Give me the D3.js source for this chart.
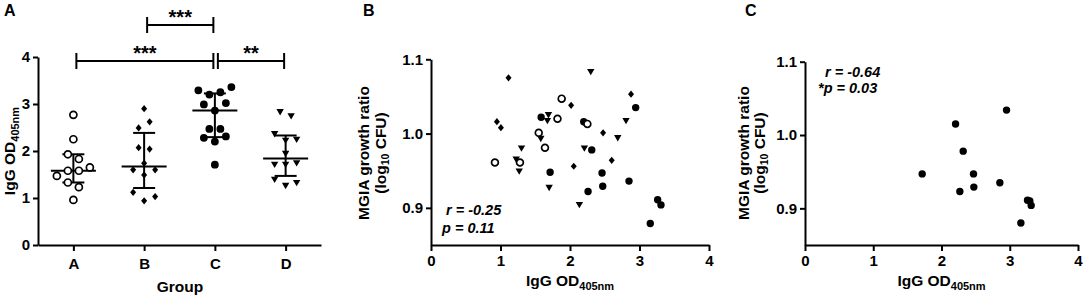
<!DOCTYPE html>
<html><head><meta charset="utf-8">
<script src="https://cdn.jsdelivr.net/npm/d3@7"></script>
<style>
body{margin:0;background:#fff}
svg{display:block}
text{font-family:"Liberation Sans",Arial,sans-serif;font-weight:bold;fill:#000}
</style>
</head><body>
<svg id="chart" width="1084" height="297"></svg>
<script>
// ---------- DATA ----------
const groups = ["A", "B", "C", "D"];
const igA = [2.77, 2.25, 1.93, 1.83, 1.47, 1.58, 1.58, 1.65, 1.33, 1.23, 0.96];
const igB = [2.90, 2.49, 2.62, 2.07, 2.04, 1.74, 1.60, 1.49, 1.60, 1.12, 0.94, 1.03];
const igC = [3.29, 3.20, 3.25, 3.36, 2.99, 2.86, 3.02, 2.47, 2.47, 2.28, 2.20, 2.31, 1.71];
const igD = [2.83, 2.74, 2.36, 2.22, 2.24, 1.94, 1.71, 1.71, 1.74, 1.39, 1.26, 1.32];
const yTicksA = [0, 1, 2, 3, 4];
const sigPairs = [["B", "C"], ["A", "C"], ["C", "D"]];
const sigLabels = ["***", "***", "**"];
const sigLevel = [0, 1, 1];

// Panel B scatter (IgG OD vs MGIA ratio)
const bOpenX = [0.92, 1.28, 1.64, 1.82, 1.55, 2.25, 1.88];
const bOpenY = [0.961, 0.961, 0.981, 1.020, 1.001, 1.013, 1.047];
const bDiamX = [1.115, 0.948, 1.006, 2.016, 2.878, 2.476, 2.600, 2.054];
const bDiamY = [1.075, 1.016, 1.008, 1.038, 1.053, 1.001, 0.964, 0.956];
const bFillX = [1.88, 1.585, 2.198, 2.945, 2.313, 1.714, 2.461, 2.471, 2.849, 2.260, 3.261, 3.309, 3.155];
const bFillY = [1.047, 1.022, 1.016, 1.035, 0.978, 0.948, 0.947, 0.929, 0.936, 0.922, 0.911, 0.904, 0.879];
const bTriX = [2.299, 1.690, 1.675, 2.806, 2.687, 1.580, 1.302, 2.207, 1.226, 1.269, 1.700, 2.135];
const bTriY = [1.083, 1.025, 1.017, 1.017, 0.994, 0.993, 0.980, 0.980, 0.965, 0.949, 0.927, 0.904];

// Panel C scatter
const cX = [1.717, 2.206, 2.318, 2.269, 2.469, 2.474, 2.953, 2.855, 3.260, 3.294, 3.314, 3.163];
const cY = [0.947, 1.015, 0.978, 0.923, 0.947, 0.929, 1.034, 0.935, 0.911, 0.910, 0.904, 0.880];

const xTicksOD = [0, 1, 2, 3, 4];
const yTicksMGIA = [0.9, 1.0, 1.1];
const statB = ["r = -0.25", "p = 0.11"];
const statC = ["r = -0.64", "*p = 0.03"];

// ---------- HELPERS ----------
const svg = d3.select("#chart");
const FONT = 15;

function styleAxis(g) {
  g.select(".domain").attr("stroke", "#000").attr("stroke-width", 2);
  g.selectAll(".tick line").attr("stroke", "#000").attr("stroke-width", 2);
  g.selectAll(".tick text").attr("font-size", FONT).attr("font-weight", "bold")
    .attr("font-family", '"Liberation Sans",Arial,sans-serif').attr("fill", "#000");
}

const circlePath = r => d3.symbol(d3.symbolCircle, Math.PI * r * r)();
const diamondPath = "M0,-3.6L3.0,0L0,3.6L-3.0,0Z";
const triPath = "M-3.7,-3.0L3.7,-3.0L0,3.4Z";

function quart(sorted, p) {
  const n = sorted.length, pos = p * (n + 1), lo = Math.floor(pos), f = pos - lo;
  if (lo < 1) return sorted[0];
  if (lo >= n) return sorted[n - 1];
  return sorted[lo - 1] + f * (sorted[lo] - sorted[lo - 1]);
}

function rowOffsets(vals, gap, step) {
  const idx = vals.map((v, i) => i).sort((a, b) => vals[b] - vals[a]);
  const rows = []; let cur = [idx[0]];
  for (let k = 1; k < idx.length; k++) {
    if (vals[idx[k - 1]] - vals[idx[k]] > gap + 1e-9) { rows.push(cur); cur = []; }
    cur.push(idx[k]);
  }
  rows.push(cur);
  const off = new Array(vals.length);
  rows.forEach(r => { r.sort((a, b) => a - b); r.forEach((i, j) => off[i] = (j - (r.length - 1) / 2) * step); });
  return off;
}

function titleOD(sel) {
  sel.append("tspan").text("IgG OD");
  sel.append("tspan").attr("font-size", 11).attr("dy", 4).text("405nm");
}

// ---------- PANEL A ----------
{
  const x = d3.scalePoint(groups, [38, 321]).padding(0.5);
  const y = d3.scaleLinear([0, 4], [245, 57]);
  const g = svg.append("g");

  g.append("g").attr("transform", "translate(38,0)")
    .call(d3.axisLeft(y).tickValues(yTicksA).tickSize(5).tickSizeOuter(0).tickPadding(3).tickFormat(d3.format("d")))
    .call(styleAxis);
  g.append("g").attr("transform", "translate(0,245)")
    .call(d3.axisBottom(x).tickSize(6).tickSizeOuter(0).tickPadding(7))
    .call(styleAxis);

  g.append("text").attr("transform", "translate(15,151) rotate(-90)").attr("text-anchor", "middle")
    .attr("font-size", 15.5).call(titleOD);
  g.append("text").attr("x", 180).attr("y", 292).attr("text-anchor", "middle").attr("font-size", 15.5).text("Group");
  g.append("text").attr("x", 4).attr("y", 16).attr("font-size", 16).text("A");

  const sets = [igA, igB, igC, igD];
  sets.forEach((vals, gi) => {
    const cx = x(groups[gi]);
    const sorted = vals.slice().sort(d3.ascending);
    const med = quart(sorted, 0.5), q1 = quart(sorted, 0.25), q3 = quart(sorted, 0.75);
    const off = rowOffsets(vals, 0.135, 11);
    const gg = g.append("g");
    gg.append("line").attr("x1", cx).attr("x2", cx).attr("y1", y(q3)).attr("y2", y(q1)).attr("stroke", "#000").attr("stroke-width", 2);
    gg.append("line").attr("x1", cx - 22.5).attr("x2", cx + 22.5).attr("y1", y(med)).attr("y2", y(med)).attr("stroke", "#000").attr("stroke-width", 2);
    [q1, q3].forEach(q => gg.append("line").attr("x1", cx - 11).attr("x2", cx + 11).attr("y1", y(q)).attr("y2", y(q)).attr("stroke", "#000").attr("stroke-width", 2));
    gg.selectAll("path.pt").data(vals).join("path").attr("class", "pt")
      .attr("transform", (d, i) => `translate(${cx + off[i]},${y(d)})`)
      .attr("d", gi === 0 ? circlePath(3.5) : gi === 1 ? diamondPath : gi === 2 ? circlePath(3.9) : triPath)
      .attr("fill", gi === 0 ? "#fff" : "#000")
      .attr("stroke", gi === 0 ? "#000" : "none")
      .attr("stroke-width", gi === 0 ? 1.7 : 0);
  });

  const levelY = [25, 61];
  sigPairs.forEach((p, i) => {
    const x1 = x(p[0]) + 3, x2 = x(p[1]) - 1.5, yy = levelY[sigLevel[i]];
    const b = g.append("g").attr("stroke", "#000").attr("stroke-width", 2);
    b.append("line").attr("x1", x1).attr("x2", x2).attr("y1", yy).attr("y2", yy);
    b.append("line").attr("x1", x1).attr("x2", x1).attr("y1", yy - 8).attr("y2", yy + 8);
    b.append("line").attr("x1", x2).attr("x2", x2).attr("y1", yy - 8).attr("y2", yy + 8);
    g.append("text").attr("x", (x1 + x2) / 2).attr("y", yy - 1).attr("text-anchor", "middle")
      .attr("font-size", 20).text(sigLabels[i]);
  });
}

// ---------- SCATTER PANELS ----------
function scatterPanel(opts) {
  const x = d3.scaleLinear([0, 4], [opts.x0, opts.x1]);
  const y = d3.scaleLinear([0.85, 1.1], [245, opts.yTop]);
  const g = svg.append("g");
  g.append("g").attr("transform", `translate(${opts.x0},0)`)
    .call(d3.axisLeft(y).tickValues(yTicksMGIA).tickSize(5).tickSizeOuter(0).tickPadding(3).tickFormat(d3.format(".1f")))
    .call(styleAxis);
  g.append("g").attr("transform", "translate(0,245)")
    .call(d3.axisBottom(x).tickValues(xTicksOD).tickSize(6).tickSizeOuter(0).tickPadding(4).tickFormat(d3.format("d")))
    .call(styleAxis);
  g.append("text").attr("x", (opts.x0 + opts.x1) / 2).attr("y", 286).attr("text-anchor", "middle")
    .attr("font-size", 15.5).call(titleOD);
  g.append("text").attr("transform", `translate(${opts.t1},153) rotate(-90)`).attr("text-anchor", "middle")
    .attr("font-size", 15.5).text("MGIA growth ratio");
  const t2 = g.append("text").attr("transform", `translate(${opts.t2},153) rotate(-90)`).attr("text-anchor", "middle")
    .attr("font-size", 15.5);
  t2.append("tspan").text("(log");
  t2.append("tspan").attr("font-size", 10.5).attr("dy", 3).text("10");
  t2.append("tspan").attr("dy", -3).text(" CFU)");
  g.append("text").attr("x", opts.lx).attr("y", 16).attr("font-size", 16).text(opts.letter);
  opts.stats.forEach((s, i) => g.append("text").attr("x", opts.sx[i]).attr("y", opts.sy[i])
    .attr("font-size", 14.5).attr("font-style", "italic").text(s));
  opts.series.forEach(s => {
    g.append("g").selectAll("path").data(s.xs).join("path")
      .attr("transform", (d, i) => `translate(${x(d)},${y(s.ys[i])})`)
      .attr("d", s.path).attr("fill", s.fill).attr("stroke", s.stroke || "none").attr("stroke-width", s.sw || 0);
  });
}

scatterPanel({
  x0: 431, x1: 709, yTop: 59.3, t1: 369, t2: 386, lx: 363, letter: "B",
  stats: statB, sx: [446, 442], sy: [215, 233],
  series: [
    { xs: bFillX, ys: bFillY, path: circlePath(3.7), fill: "#000" },
    { xs: bDiamX, ys: bDiamY, path: diamondPath, fill: "#000" },
    { xs: bOpenX, ys: bOpenY, path: circlePath(3.4), fill: "#fff", stroke: "#000", sw: 1.7 },
    { xs: bTriX, ys: bTriY, path: triPath, fill: "#000" }
  ]
});

scatterPanel({
  x0: 805, x1: 1078, yTop: 61.7, t1: 749, t2: 765, lx: 745, letter: "C",
  stats: statC, sx: [825, 818], sy: [76.5, 93],
  series: [
    { xs: cX, ys: cY, path: circlePath(3.7), fill: "#000" }
  ]
});
</script>
</body></html>
